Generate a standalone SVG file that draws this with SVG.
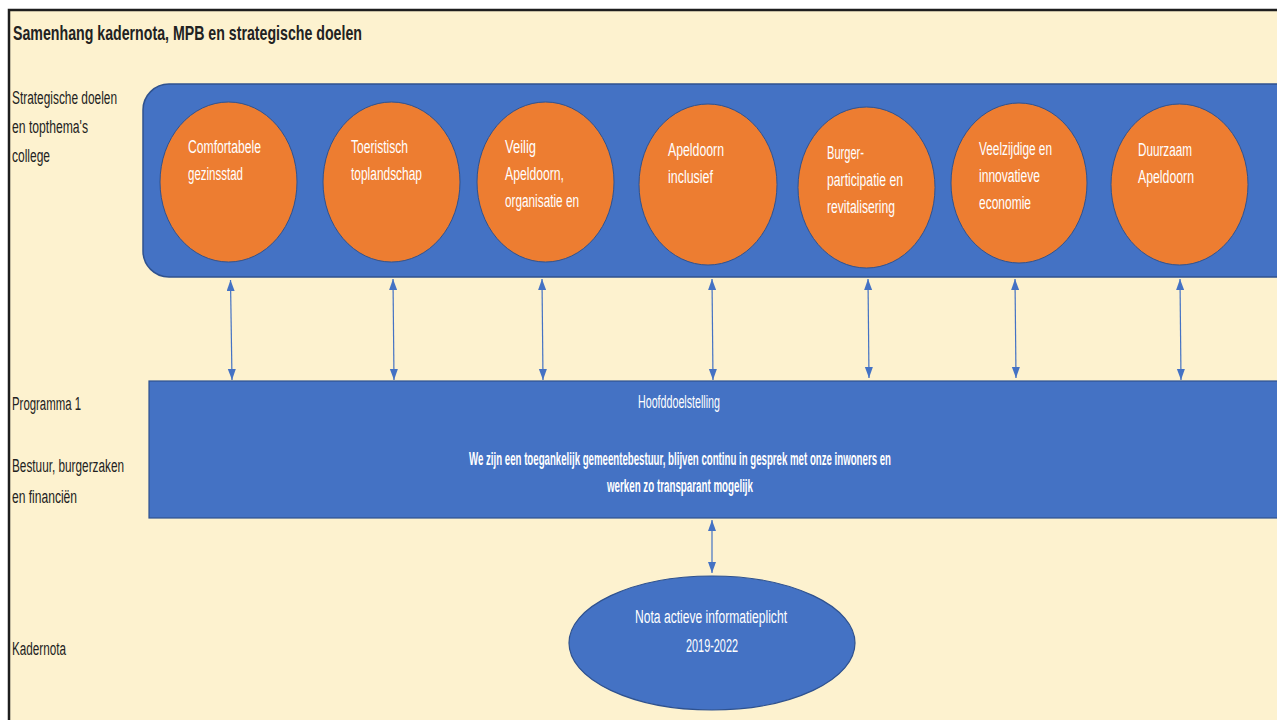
<svg xmlns="http://www.w3.org/2000/svg" width="1277" height="720" viewBox="0 0 1277 720">
<defs>
<style>
.t{font-family:"Liberation Sans",Arial,sans-serif;font-size:18px;fill:#222}
.w{font-family:"Liberation Sans",Arial,sans-serif;font-size:18px;fill:#fff}
.wb{font-family:"Liberation Sans",Arial,sans-serif;font-size:18px;font-weight:bold;fill:#fff}
.c{fill:#ED7D31;stroke:#2F528F;stroke-width:1}
.conn line{stroke:#4472C4;stroke-width:1.2;marker-start:url(#ah);marker-end:url(#ah)}
</style>
<marker id="ah" markerUnits="userSpaceOnUse" markerWidth="12" markerHeight="9" refX="11" refY="4" orient="auto-start-reverse">
<path d="M0,0 L11,4 L0,8 z" fill="#4472C4"/>
</marker>
</defs>
<rect x="0" y="0" width="1277" height="720" fill="#ffffff"/>
<rect x="9" y="10" width="1268" height="710" fill="#FDF2CF"/>
<path d="M9,720 V10 H1277" fill="none" stroke="#1e1e1e" stroke-width="2.5"/>
<text class="t" x="13" y="40" font-weight="bold" textLength="349" lengthAdjust="spacingAndGlyphs" style="font-size:21px">Samenhang kadernota, MPB en strategische doelen</text>
<g id="labels">
<text class="t" x="12" y="104" textLength="105" lengthAdjust="spacingAndGlyphs">Strategische doelen</text>
<text class="t" x="12" y="133" textLength="76" lengthAdjust="spacingAndGlyphs">en topthema's</text>
<text class="t" x="12" y="162" textLength="38" lengthAdjust="spacingAndGlyphs">college</text>
<text class="t" x="12" y="410" textLength="69" lengthAdjust="spacingAndGlyphs">Programma 1</text>
<text class="t" x="12" y="472" textLength="112" lengthAdjust="spacingAndGlyphs">Bestuur, burgerzaken</text>
<text class="t" x="12" y="503" textLength="65" lengthAdjust="spacingAndGlyphs">en financiën</text>
<text class="t" x="12" y="655" textLength="54" lengthAdjust="spacingAndGlyphs">Kadernota</text>
</g>
<g id="strategische-doelen">
<rect x="143" y="84" width="1160" height="193" rx="26" fill="#4472C4" stroke="#2F528F" stroke-width="1.5"/>
</g>
<g id="doel1">
<ellipse class="c" cx="228.5" cy="182" rx="68.5" ry="80"/>
<text class="w" x="188" y="153" textLength="73" lengthAdjust="spacingAndGlyphs">Comfortabele</text>
<text class="w" x="188" y="180" textLength="55" lengthAdjust="spacingAndGlyphs">gezinsstad</text>
</g>
<g id="doel2">
<ellipse class="c" cx="391.5" cy="182" rx="68.5" ry="80"/>
<text class="w" x="351" y="153" textLength="57" lengthAdjust="spacingAndGlyphs">Toeristisch</text>
<text class="w" x="351" y="180" textLength="71" lengthAdjust="spacingAndGlyphs">toplandschap</text>
</g>
<g id="doel3">
<ellipse class="c" cx="545.5" cy="182" rx="68.5" ry="80"/>
<text class="w" x="505" y="153" textLength="31" lengthAdjust="spacingAndGlyphs">Veilig</text>
<text class="w" x="505" y="180" textLength="59" lengthAdjust="spacingAndGlyphs">Apeldoorn,</text>
<text class="w" x="505" y="207" textLength="74" lengthAdjust="spacingAndGlyphs">organisatie en</text>
</g>
<g id="doel4">
<ellipse class="c" cx="708" cy="184.5" rx="69" ry="80.5"/>
<text class="w" x="668" y="156" textLength="56" lengthAdjust="spacingAndGlyphs">Apeldoorn</text>
<text class="w" x="668" y="183" textLength="45" lengthAdjust="spacingAndGlyphs">inclusief</text>
</g>
<g id="doel5">
<ellipse class="c" cx="866.5" cy="187.5" rx="68.5" ry="80.5"/>
<text class="w" x="827" y="159" textLength="37" lengthAdjust="spacingAndGlyphs">Burger-</text>
<text class="w" x="827" y="186" textLength="76" lengthAdjust="spacingAndGlyphs">participatie en</text>
<text class="w" x="827" y="213" textLength="68" lengthAdjust="spacingAndGlyphs">revitalisering</text>
</g>
<g id="doel6">
<ellipse class="c" cx="1019" cy="183" rx="68" ry="80"/>
<text class="w" x="979" y="155" textLength="73" lengthAdjust="spacingAndGlyphs">Veelzijdige en</text>
<text class="w" x="979" y="182" textLength="61" lengthAdjust="spacingAndGlyphs">innovatieve</text>
<text class="w" x="979" y="209" textLength="52" lengthAdjust="spacingAndGlyphs">economie</text>
</g>
<g id="doel7">
<ellipse class="c" cx="1179.5" cy="184.5" rx="68.5" ry="80.5"/>
<text class="w" x="1138" y="156" textLength="54" lengthAdjust="spacingAndGlyphs">Duurzaam</text>
<text class="w" x="1138" y="183" textLength="56" lengthAdjust="spacingAndGlyphs">Apeldoorn</text>
</g>
<g id="programma">
<rect x="149" y="381" width="1140" height="137" fill="#4472C4" stroke="#2F528F" stroke-width="1.2"/>
<text class="w" x="679" y="408" text-anchor="middle" textLength="82" lengthAdjust="spacingAndGlyphs">Hoofddoelstelling</text>
<text class="wb" x="680" y="465" text-anchor="middle" textLength="422" lengthAdjust="spacingAndGlyphs">We zijn een toegankelijk gemeentebestuur, blijven continu in gesprek met onze inwoners en</text>
<text class="wb" x="680" y="492" text-anchor="middle" textLength="146" lengthAdjust="spacingAndGlyphs">werken zo transparant mogelijk</text>
</g>
<g id="kadernota">
<ellipse cx="712" cy="643" rx="143" ry="67" fill="#4472C4" stroke="#2F528F" stroke-width="1.2"/>
<text class="w" x="711" y="623" text-anchor="middle" textLength="152" lengthAdjust="spacingAndGlyphs">Nota actieve informatieplicht</text>
<text class="w" x="712" y="652" text-anchor="middle" textLength="52" lengthAdjust="spacingAndGlyphs">2019-2022</text>
</g>
<g id="connectors" class="conn">
<line x1="230.5" y1="280" x2="232" y2="380"/>
<line x1="393" y1="279" x2="394" y2="380"/>
<line x1="542" y1="279" x2="543" y2="380"/>
<line x1="712" y1="279" x2="713" y2="380"/>
<line x1="868" y1="279" x2="869" y2="378"/>
<line x1="1015" y1="279" x2="1016" y2="378"/>
<line x1="1180" y1="279" x2="1181" y2="380"/>
<line x1="712" y1="520" x2="712" y2="573"/>
</g>
</svg>
